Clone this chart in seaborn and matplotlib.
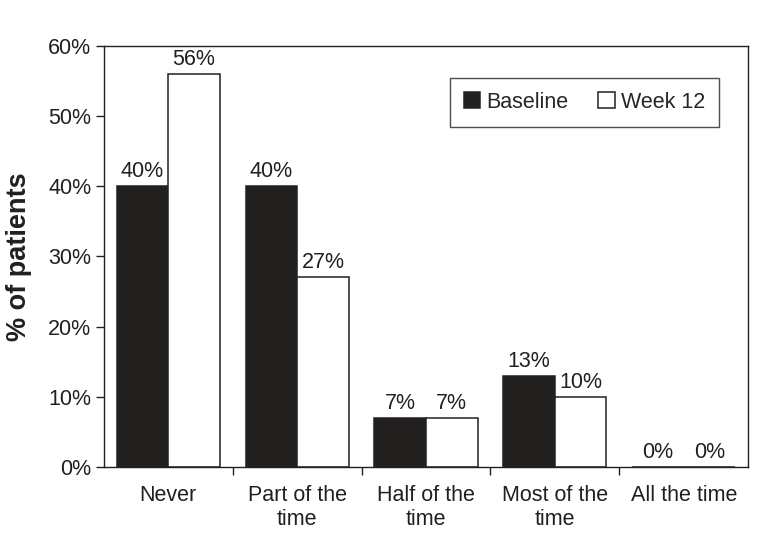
import matplotlib
matplotlib.use("Agg")
import matplotlib.pyplot as plt
import seaborn as sns
import pandas as pd
import numpy as np

sns.set_style("white")
plt.rcParams['font.family'] = ['Liberation Sans', 'DejaVu Sans']

categories = ['Never', 'Part of the\ntime', 'Half of the\ntime', 'Most of the\ntime', 'All the time']
baseline = [40, 40, 7, 13, 0]
week12 = [56, 27, 7, 10, 0]
groups = ['Baseline', 'Week 12']

df = pd.DataFrame({
    'Category': categories * 2,
    'Percent': baseline + week12,
    'Group': [groups[0]] * len(categories) + [groups[1]] * len(categories),
})

fig = plt.figure(figsize=(7.69, 5.33), dpi=100)
ax = fig.add_axes([0.135, 0.124, 0.838, 0.79])

sns.barplot(data=df, x='Category', y='Percent', hue='Group',
            palette={'Baseline': '#231f20', 'Week 12': 'white'},
            edgecolor='#231f20', linewidth=1.1, width=0.8, ax=ax)

for container in ax.containers:
    ax.bar_label(container, labels=[f"{v:.0f}%" for v in container.datavalues],
                 fontsize=15.5, padding=3, color='#231f20')

ax.set_ylim(0, 60)
ax.set_xlim(-0.5, len(categories) - 0.5)
ax.set_yticks(np.arange(0, 61, 10))
ax.set_yticklabels([f"{t}%" for t in range(0, 61, 10)], fontsize=15.5, color='#231f20')
ax.tick_params(axis='y', direction='out', length=6, width=1, color='#231f20', left=True, pad=3)

# category labels at centers, tick marks at boundaries
ax.set_xticks(range(len(categories)))
ax.set_xticklabels(categories, fontsize=15.5, color='#231f20', linespacing=1.2)
ax.tick_params(axis='x', which='major', length=0, pad=13)
ax.set_xticks(np.arange(0.5, len(categories) - 0.5, 1), minor=True)
ax.tick_params(axis='x', which='minor', direction='out', length=6, width=1,
               color='#231f20', bottom=True)

ax.set_xlabel('')
ax.set_ylabel('% of patients', fontsize=19.5, fontweight='bold', color='#231f20', labelpad=12)

for s in ax.spines.values():
    s.set_visible(True)
    s.set_color('#231f20')
    s.set_linewidth(1.0)

leg = ax.legend(loc='upper right', bbox_to_anchor=(0.955, 0.924), borderaxespad=0,
                ncol=2, fontsize=15.5,
                frameon=True, fancybox=False, handlelength=0.75, handleheight=0.75,
                handletextpad=0.3, columnspacing=1.4, borderpad=0.65)
leg.get_frame().set_edgecolor('#231f20')
leg.get_frame().set_linewidth(1.0)

fig.savefig('out.png', dpi=100)
